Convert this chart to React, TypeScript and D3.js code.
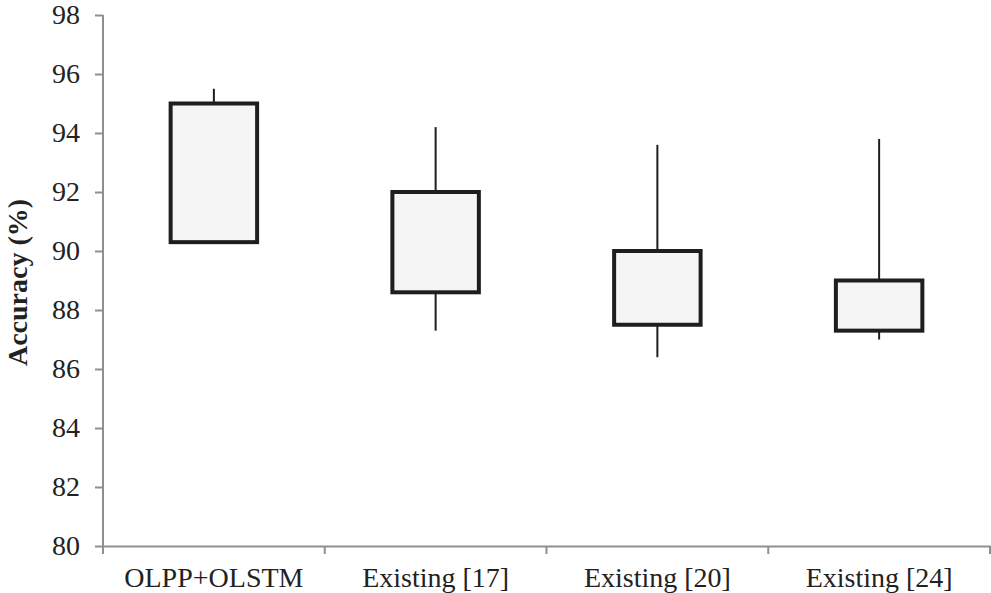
import * as d3 from 'd3'
import { useEffect, useRef } from 'react'

const categories = ['OLPP+OLSTM', 'Existing [17]', 'Existing [20]', 'Existing [24]']
const lows = [90.3, 87.3, 86.4, 87.0]
const boxLows = [90.3, 88.6, 87.5, 87.3]
const boxHighs = [95.0, 92.0, 90.0, 89.0]
const highs = [95.5, 94.2, 93.6, 93.8]
const yTicks = [80, 82, 84, 86, 88, 90, 92, 94, 96, 98]

const W = 991
const H = 593
const FONT = '"Liberation Serif", "Times New Roman", serif'

export default function App() {
  const ref = useRef<SVGSVGElement>(null)

  useEffect(() => {
    const margin = { top: 15, right: 1, bottom: 47, left: 103 }
    const svg = d3.select(ref.current)
    svg.selectAll('*').remove()

    const x = d3.scaleBand().domain(categories).range([margin.left, W - margin.right]).padding(0)
    const y = d3.scaleLinear().domain([80, 98]).range([H - margin.bottom, margin.top])
    const axisColor = '#8f8f8f'

    // y axis
    const yAxis = svg
      .append('g')
      .attr('transform', `translate(${margin.left},0)`)
      .call(d3.axisLeft(y).tickValues(yTicks).tickSize(8).tickPadding(15).tickFormat(d3.format('d')))
    yAxis.select('.domain').attr('stroke', axisColor).attr('stroke-width', 2).attr('d', `M0,${y(98)}V${y(80)}`)
    yAxis.selectAll('.tick line').attr('stroke', axisColor).attr('stroke-width', 2)
    yAxis.selectAll('.tick text').attr('fill', '#222').style('font-family', FONT).style('font-size', '28px')

    // x axis: labels centred, ticks at band edges
    const xAxis = svg
      .append('g')
      .attr('transform', `translate(0,${y(80)})`)
      .call(d3.axisBottom(x).tickSize(0).tickPadding(21))
    xAxis.select('.domain').attr('stroke', axisColor).attr('stroke-width', 2)
    xAxis.selectAll('.tick text').attr('fill', '#222').style('font-family', FONT).style('font-size', '28px')

    const edges = categories.map((c) => x(c)!).concat([x(categories[categories.length - 1])! + x.bandwidth()])
    svg
      .append('g')
      .selectAll('line')
      .data(edges)
      .join('line')
      .attr('x1', (d) => d)
      .attr('x2', (d) => d)
      .attr('y1', y(80))
      .attr('y2', y(80) + 8)
      .attr('stroke', axisColor)
      .attr('stroke-width', 2)

    // whiskers
    const bw = x.bandwidth() * 0.39
    const cx = (c: string) => x(c)! + x.bandwidth() / 2
    svg
      .append('g')
      .selectAll('line')
      .data(categories)
      .join('line')
      .attr('x1', (d) => cx(d))
      .attr('x2', (d) => cx(d))
      .attr('y1', (d, i) => y(highs[i]))
      .attr('y2', (d, i) => y(lows[i]))
      .attr('stroke', '#1e1e1e')
      .attr('stroke-width', 2)

    // boxes
    svg
      .append('g')
      .selectAll('rect')
      .data(categories)
      .join('rect')
      .attr('x', (d) => cx(d) - bw / 2)
      .attr('width', bw)
      .attr('y', (d, i) => y(boxHighs[i]))
      .attr('height', (d, i) => y(boxLows[i]) - y(boxHighs[i]))
      .attr('fill', '#f5f5f5')
      .attr('stroke', '#1e1e1e')
      .attr('stroke-width', 4)

    // axis title
    svg
      .append('text')
      .attr('transform', `translate(27,${(y(80) + y(98)) / 2 + 2}) rotate(-90)`)
      .attr('text-anchor', 'middle')
      .style('font-family', FONT)
      .style('font-size', '28px')
      .style('font-weight', 'bold')
      .attr('fill', '#222')
      .text('Accuracy (%)')
  }, [])

  return (
    <svg
      ref={ref}
      width={W}
      height={H}
      style={{ position: 'absolute', left: 0, top: 0, background: '#fff' }}
    ></svg>
  )
}
